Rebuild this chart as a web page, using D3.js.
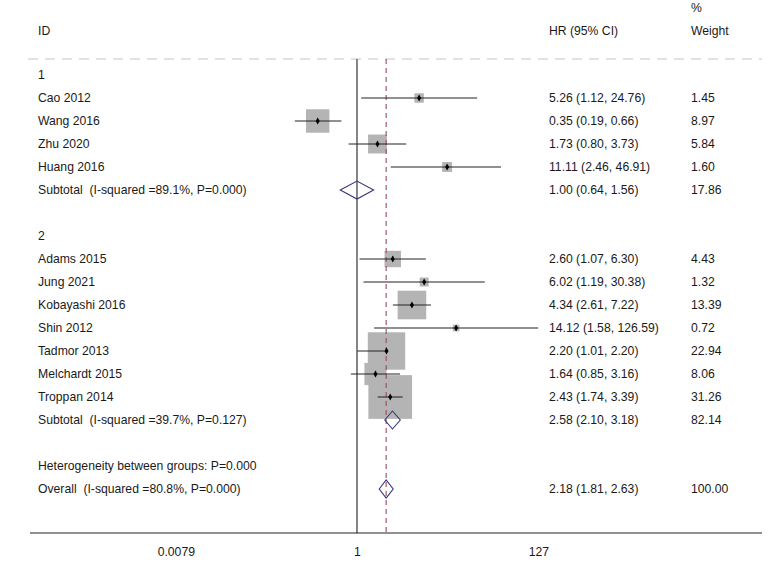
<!DOCTYPE html>
<html>
<head>
  <meta charset="UTF-8">
  <title>Forest plot</title>
  <style>
    body { margin: 0; background: #fff; }
    svg text { font-family: "Liberation Sans", Arial, sans-serif; font-size: 12.2px; fill: #1a1a1a; white-space: pre; }
  </style>
</head>
<body>
  <div id="chart"></div>
  <script src="https://d3js.org/d3.v7.min.js"></script>
  <script>
    // rows from top to bottom
    const labels = ["1", "Cao 2012", "Wang 2016", "Zhu 2020", "Huang 2016",
      "Subtotal  (I-squared =89.1%, P=0.000)", "",
      "2", "Adams 2015", "Jung 2021", "Kobayashi 2016", "Shin 2012", "Tadmor 2013",
      "Melchardt 2015", "Troppan 2014", "Subtotal  (I-squared =39.7%, P=0.127)", "",
      "Heterogeneity between groups: P=0.000", "Overall  (I-squared =80.8%, P=0.000)"];
    const rowType = ["head", "study", "study", "study", "study", "pooled", "blank",
      "head", "study", "study", "study", "study", "study", "study", "study", "pooled", "blank",
      "text", "pooled"];
    const hr    = [null, 5.26, 0.35, 1.73, 11.11, 1.00, null, null, 2.60, 6.02, 4.34, 14.12, 2.20, 1.64, 2.43, 2.58, null, null, 2.18];
    const lower = [null, 1.12, 0.19, 0.80, 2.46, 0.64, null, null, 1.07, 1.19, 2.61, 1.58, 1.01, 0.85, 1.74, 2.10, null, null, 1.81];
    const upper = [null, 24.76, 0.66, 3.73, 46.91, 1.56, null, null, 6.30, 30.38, 7.22, 126.59, 2.20, 3.16, 3.39, 3.18, null, null, 2.63];
    const weight = [null, 1.45, 8.97, 5.84, 1.60, 17.86, null, null, 4.43, 1.32, 13.39, 0.72, 22.94, 8.06, 31.26, 82.14, null, null, 100.00];
    const tickValues = [0.0079, 1, 127];
    const overallHR = 2.18;

    const width = 779, height = 565;
    const svg = d3.select("#chart").append("svg")
      .attr("width", width).attr("height", height);

    const x = d3.scaleLog().domain([0.0079, 127]).range([175.8, 538.3]);
    const y = d3.scaleLinear().domain([0, 18]).range([75, 489]);
    const f2 = d3.format(".2f");
    const boxSide = d3.scaleSqrt().domain([0, 31.26]).range([0, 43.7]);

    const topY = 59, axisY = 533;
    const colId = 38, colHr = 549, colW = 691;

    // header
    svg.append("text").attr("x", colW).attr("y", 12).text("%");
    svg.append("text").attr("x", colId).attr("y", 34.5).text("ID");
    svg.append("text").attr("x", colHr).attr("y", 34.5).text("HR (95% CI)");
    svg.append("text").attr("x", colW).attr("y", 34.5).text("Weight");
    svg.append("line")
      .attr("x1", 28).attr("x2", 762).attr("y1", topY).attr("y2", topY)
      .attr("stroke", "#c4c4c4").attr("stroke-width", 1).attr("stroke-dasharray", "10,7");

    const rows = labels.map((l, i) => ({
      i: i, label: l, type: rowType[i], hr: hr[i], lo: lower[i], hi: upper[i], w: weight[i]
    }));
    const studies = rows.filter(d => d.type === "study");
    const pooled = rows.filter(d => d.type === "pooled");

    // weight boxes
    svg.selectAll("rect.box").data(studies).enter().append("rect")
      .attr("class", "box")
      .attr("x", d => x(d.hr) - boxSide(d.w) / 2)
      .attr("y", d => y(d.i) - boxSide(d.w) / 2)
      .attr("width", d => boxSide(d.w))
      .attr("height", d => boxSide(d.w))
      .attr("fill", "#b4b4b4");

    // null line and overall line
    svg.append("line")
      .attr("x1", x(1)).attr("x2", x(1)).attr("y1", topY).attr("y2", axisY)
      .attr("stroke", "#444").attr("stroke-width", 1.3);
    svg.append("line")
      .attr("x1", x(overallHR)).attr("x2", x(overallHR)).attr("y1", topY).attr("y2", axisY)
      .attr("stroke", "#9a4a5c").attr("stroke-width", 1.1).attr("stroke-dasharray", "5,4");

    // confidence intervals
    svg.selectAll("line.ci").data(studies).enter().append("line")
      .attr("class", "ci")
      .attr("x1", d => x(d.lo)).attr("x2", d => x(d.hi))
      .attr("y1", d => y(d.i)).attr("y2", d => y(d.i))
      .attr("stroke", "#222").attr("stroke-width", 1);

    svg.selectAll("path.pt").data(studies).enter().append("path")
      .attr("class", "pt")
      .attr("d", d3.symbol().type(d3.symbolDiamond).size(14))
      .attr("transform", d => `translate(${x(d.hr)},${y(d.i)})`)
      .attr("fill", "#000");

    // pooled diamonds
    svg.selectAll("path.pooled").data(pooled).enter().append("path")
      .attr("class", "pooled")
      .attr("d", d => {
        const cy = y(d.i), h = 9;
        return `M${x(d.lo)},${cy}L${x(d.hr)},${cy - h}L${x(d.hi)},${cy}L${x(d.hr)},${cy + h}Z`;
      })
      .attr("fill", "none").attr("stroke", "#35357f").attr("stroke-width", 1.1);

    // text columns
    svg.selectAll("text.lab").data(rows.filter(d => d.label)).enter().append("text")
      .attr("class", "lab")
      .attr("x", colId).attr("y", d => y(d.i) + 4.3)
      .text(d => d.label);
    const valued = rows.filter(d => d.hr !== null);
    svg.selectAll("text.est").data(valued).enter().append("text")
      .attr("class", "est")
      .attr("x", colHr).attr("y", d => y(d.i) + 4.3)
      .text(d => `${f2(d.hr)} (${f2(d.lo)}, ${f2(d.hi)})`);
    svg.selectAll("text.wt").data(valued).enter().append("text")
      .attr("class", "wt")
      .attr("x", colW).attr("y", d => y(d.i) + 4.3)
      .text(d => f2(d.w));

    // axis
    svg.append("line")
      .attr("x1", 30).attr("x2", 762).attr("y1", axisY).attr("y2", axisY)
      .attr("stroke", "#222").attr("stroke-width", 1);
    const axis = d3.axisBottom(x).tickValues(tickValues).tickSize(0).tickPadding(14)
      .tickFormat(d => d === 0.0079 ? "0.0079" : d3.format("d")(d));
    const g = svg.append("g").attr("transform", `translate(0,${axisY})`).call(axis);
    g.select(".domain").remove();
    g.selectAll("text").style("font-family", "'Liberation Sans', Arial, sans-serif")
      .style("font-size", "12.2px").attr("fill", "#1a1a1a");
  </script>
</body>
</html>
